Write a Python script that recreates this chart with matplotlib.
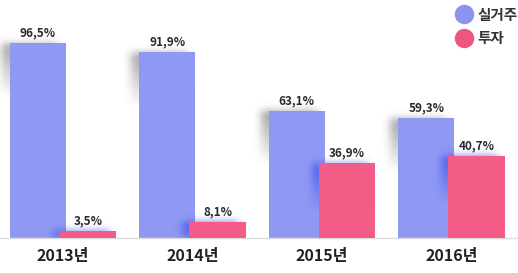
import numpy as np
import matplotlib
matplotlib.use("Agg")
import matplotlib.pyplot as plt
from matplotlib.lines import Line2D
from matplotlib.colors import to_rgb

plt.rcParams['font.family'] = ['Noto Sans CJK KR', 'DejaVu Sans']

# data
years = ["2013년", "2014년", "2015년", "2016년"]
residence = [96.5, 91.9, 63.1, 59.3]   # 실거주
invest = [3.5, 8.1, 36.9, 40.7]        # 투자
series_names = ["실거주", "투자"]

BLUE = "#8f99f3"
RED = "#f35c86"

W, H, DPI = 518, 273, 100
XMIN, XMAX = -0.486, 3.514
YMAX = 117.8
AX_H = 238  # pixels from baseline up to figure top

fig = plt.figure(figsize=(W / DPI, H / DPI), dpi=DPI)
ax = fig.add_axes([0, (H - AX_H) / H, 1, AX_H / H])
ax.set_xlim(XMIN, XMAX)
ax.set_ylim(0, YMAX)

px_x = W / (XMAX - XMIN)
px_y = AX_H / YMAX

bw = 0.434
off = 0.194
x = np.arange(len(years))


def blur1d(a, sigma, axis):
    r = int(3 * sigma)
    k = np.exp(-0.5 * (np.arange(-r, r + 1) / sigma) ** 2)
    k /= k.sum()
    return np.apply_along_axis(lambda v: np.convolve(v, k, mode="same"), axis, a)


def add_shadow(ax, xc, h, color, alpha, dx, sigma, decay, z):
    """blurred shadow left of a bar, fading downward"""
    m = 20
    wpx = int(bw * px_x) + 2 * m
    hpx = int(h * px_y) + 2 * m
    img = np.zeros((hpx, wpx))
    bx0 = m - dx
    bx1 = m - dx + int(bw * px_x)
    img[m:m + int(h * px_y), max(bx0, 0):bx1] = 1.0  # row 0 = bottom
    img = blur1d(blur1d(img, sigma, 0), sigma, 1)
    rows = np.arange(hpx)
    top = m + h * px_y
    fade = np.clip(1 - (top - rows) / decay, 0, 1)
    img = img * fade[:, None] * alpha
    rgba = np.zeros((hpx, wpx, 4))
    rgba[..., :3] = to_rgb(color)
    rgba[..., 3] = img
    x0 = xc - bw / 2 - m / px_x
    x1 = x0 + wpx / px_x
    y0 = -m / px_y
    y1 = y0 + hpx / px_y
    ax.imshow(rgba, extent=(x0, x1, y0, y1), origin="lower",
              aspect="auto", interpolation="bilinear", zorder=z, clip_on=True)


for i in range(len(years)):
    add_shadow(ax, x[i] - off, residence[i], "#505050", 0.55, 8, 4, 55, 1)
    add_shadow(ax, x[i] + off, invest[i], "#3b4ae6", 0.75, 7, 4, 50, 2.5)

ax.bar(x - off, residence, bw, color=BLUE, zorder=2)
ax.bar(x + off, invest, bw, color=RED, zorder=3)
ax.set_xlim(XMIN, XMAX)
ax.set_ylim(0, YMAX)

for xi, v in zip(x - off, residence):
    ax.text(xi, v + 1.8, f"{v:.1f}%".replace(".", ","), ha="center", va="bottom",
            fontsize=8.5, fontweight="bold", color="#2a2a2a", zorder=5)
for xi, v in zip(x + off, invest):
    ax.text(xi, v + 1.8, f"{v:.1f}%".replace(".", ","), ha="center", va="bottom",
            fontsize=8.5, fontweight="bold", color="#2a2a2a", zorder=5)

ax.set_xticks(x)
ax.set_xticklabels(years, fontsize=11.5, fontweight="bold", color="#222222")
ax.tick_params(axis="x", length=0, pad=7)
ax.set_yticks([])
for s in ["top", "right", "left"]:
    ax.spines[s].set_visible(False)
ax.spines["bottom"].set_color("#dcdcdc")
ax.spines["bottom"].set_linewidth(1)

handles = [Line2D([], [], marker="o", ls="", markersize=13, color="#8a93f2"),
           Line2D([], [], marker="o", ls="", markersize=13, color="#ef5581")]
fig.legend(handles, series_names, loc="upper right", bbox_to_anchor=(1.012, 1.0),
           frameon=False, handletextpad=0.15, labelspacing=0.5, handlelength=1.6,
           prop={"family": ["Noto Sans CJK KR", "DejaVu Sans"], "weight": "bold", "size": 10.5},
           labelcolor="#333333", borderaxespad=0.05)

fig.savefig("out.png", dpi=DPI)
